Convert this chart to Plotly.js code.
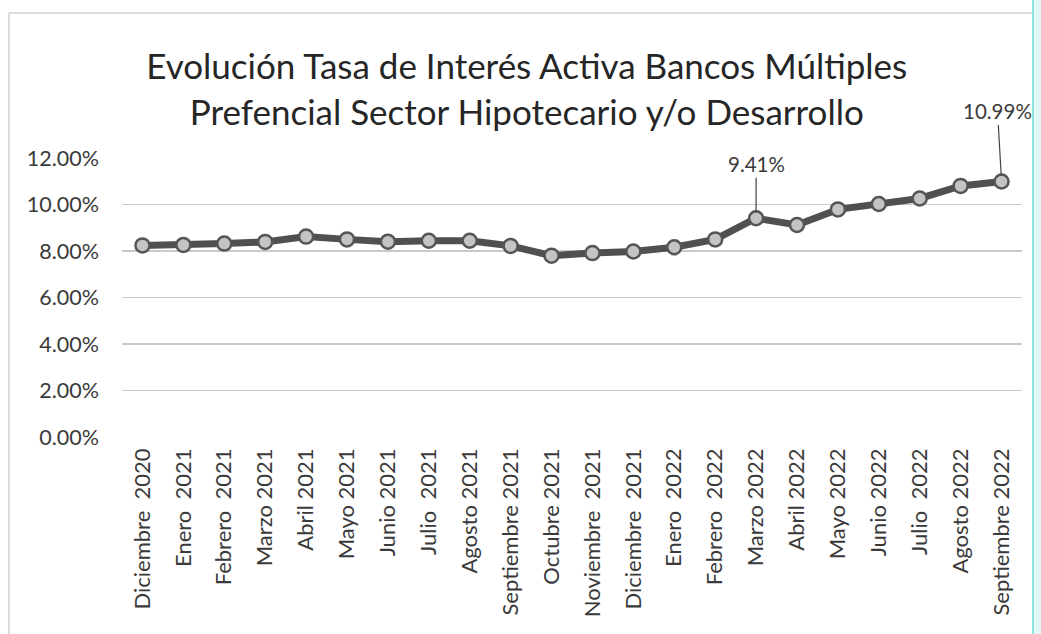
<!DOCTYPE html>
<html>
<head>
<meta charset="utf-8">
<script src="https://cdn.plot.ly/plotly-3.0.1.min.js"></script>
<style>html,body{margin:0;padding:0;background:#fff;}#chart{width:1041px;height:634px;}</style>
</head>
<body>
<div id="chart"></div>
<script>
// Data
const months = [
  "Diciembre  2020", "Enero  2021", "Febrero  2021", "Marzo 2021", "Abril 2021",
  "Mayo 2021", "Junio 2021", "Julio  2021", "Agosto 2021", "Septiembre 2021",
  "Octubre 2021", "Noviembre  2021", "Diciembre  2021", "Enero  2022", "Febrero  2022",
  "Marzo 2022", "Abril 2022", "Mayo 2022", "Junio 2022", "Julio  2022",
  "Agosto 2022", "Septiembre 2022"
];
const rates = [
  0.0824, 0.0826, 0.0832, 0.0839, 0.0862,
  0.0850, 0.0840, 0.0844, 0.0844, 0.0822,
  0.0780, 0.0791, 0.0798, 0.0816, 0.0850,
  0.0941, 0.0912, 0.0979, 0.1002, 0.1026,
  0.1080, 0.1099
];
const labelledPoints = [15, 21];
const titleLines = [
  "Evolución Tasa de Interés Activa Bancos Múltiples",
  "Prefencial Sector Hipotecario y/o Desarrollo"
];
const yTicks = [0, 0.02, 0.04, 0.06, 0.08, 0.10, 0.12];

const FONT = 'Lato, "Open Sans", sans-serif';
const TXT = '#3a3a3a';

const trace = {
  x: months,
  y: rates,
  type: 'scatter',
  mode: 'lines+markers',
  line: {color: '#505050', width: 7},
  marker: {symbol: 'circle', size: 14, color: '#c4c4c4', line: {color: '#555555', width: 2.5}},
  hoverinfo: 'x+y'
};

const annOffsets = {15: {ax: 0, ay: -54}, 21: {ax: -4, ay: -70}};
const annotations = labelledPoints.map(i => ({
  x: months[i], y: rates[i], xref: 'x', yref: 'y',
  text: (rates[i] * 100).toFixed(2) + '%',
  showarrow: true, arrowhead: 0, arrowwidth: 1.2, arrowcolor: '#444',
  ax: annOffsets[i].ax, ay: annOffsets[i].ay, standoff: 6,
  font: {family: FONT, size: 20.5, color: TXT}
}));

const layout = {
  width: 1041, height: 634,
  margin: {l: 122, r: 19, t: 158, b: 197},
  paper_bgcolor: '#ffffff', plot_bgcolor: '#ffffff',
  showlegend: false,
  title: {
    text: titleLines.join('<br>'),
    font: {family: FONT, size: 35, color: '#262626'},
    x: 0.506, xanchor: 'center', xref: 'container',
    y: 0.875, yanchor: 'top', yref: 'container'
  },
  xaxis: {
    type: 'category',
    tickangle: -90,
    showgrid: false, zeroline: false, showline: false,
    ticks: '', ticklabelstandoff: 6,
    tickfont: {family: FONT, size: 22, color: TXT},
    range: [-0.5, months.length - 0.5],
    fixedrange: true
  },
  yaxis: {
    range: [0, 0.12],
    tickvals: yTicks,
    tickformat: '.2%',
    showgrid: true, gridcolor: '#c9c9c9', gridwidth: 1.2,
    zeroline: false, showline: false, ticks: '',
    ticklabelstandoff: 22,
    tickfont: {family: FONT, size: 21.5, color: TXT},
    fixedrange: true
  },
  annotations: annotations,
  shapes: [
    {type: 'line', xref: 'paper', yref: 'paper', x0: -0.1256, x1: -0.1256, y0: 1.5197, y1: -0.71, line: {color: '#cfcfcf', width: 1.5}},
    {type: 'line', xref: 'paper', yref: 'paper', x0: -0.1256, x1: 1.0111, y0: 1.5197, y1: 1.5197, line: {color: '#d0d0d0', width: 1.5}},
    {type: 'rect', xref: 'paper', yref: 'paper', x0: 1.0111, x1: 1.03, y0: -0.71, y1: 1.57, line: {width: 0}, fillcolor: '#e3f7f7'},
    {type: 'line', xref: 'paper', yref: 'paper', x0: 1.0122, x1: 1.0122, y0: -0.71, y1: 1.57, line: {color: '#8fe3e3', width: 2}}
  ]
};

Plotly.newPlot('chart', [trace], layout, {displayModeBar: false, staticPlot: true});
</script>
</body>
</html>
